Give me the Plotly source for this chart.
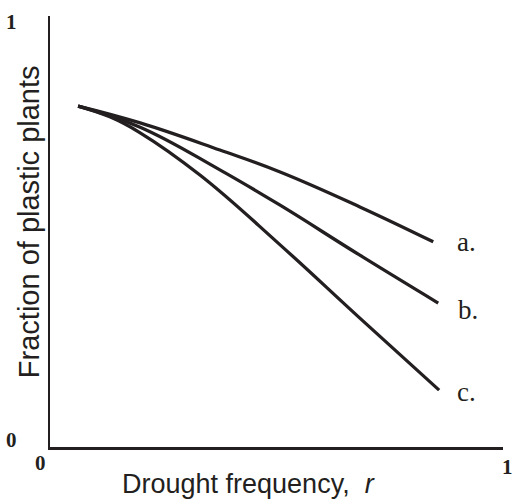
import plotly.graph_objects as go

# Curve data (drought frequency r, fraction of plastic plants)
x_a = [0.062, 0.199, 0.375, 0.508, 0.684, 0.846]
y_a = [0.791, 0.752, 0.689, 0.638, 0.557, 0.476]

x_b = [0.062, 0.199, 0.375, 0.508, 0.684, 0.857]
y_b = [0.791, 0.742, 0.643, 0.561, 0.445, 0.334]

x_c = [0.062, 0.132, 0.199, 0.331, 0.508, 0.684, 0.859]
y_c = [0.791, 0.766, 0.729, 0.631, 0.469, 0.299, 0.132]

curve_labels = ["a.", "b.", "c."]
label_x = [0.895, 0.897, 0.893]
label_y = [0.476, 0.318, 0.128]

tick_texts = ["1", "0", "0", "1"]

fig = go.Figure()
for xs, ys in [(x_a, y_a), (x_b, y_b), (x_c, y_c)]:
    fig.add_trace(go.Scatter(x=xs, y=ys, mode="lines",
                             line=dict(color="#231f20", width=3.3, shape="spline", smoothing=1.2),
                             showlegend=False, hoverinfo="skip"))

for t, lx, ly in zip(curve_labels, label_x, label_y):
    fig.add_annotation(x=lx, y=ly, xref="x", yref="y", text=t, showarrow=False,
                       xanchor="left", yanchor="middle",
                       font=dict(family="Liberation Serif", size=27, color="#231f20"))

# corner tick labels
tick_pos = [(-0.084, 0.986), (-0.084, 0.016), (-0.022, -0.037), (1.01, -0.046)]
for t, (px, py) in zip(tick_texts, tick_pos):
    fig.add_annotation(x=px, y=py, xref="paper", yref="paper", text="<b>" + t + "</b>",
                       showarrow=False, xanchor="center", yanchor="middle",
                       font=dict(family="Liberation Serif", size=21, color="#231f20"))

fig.add_annotation(x=0.439, y=-0.085, xref="paper", yref="paper",
                   text="Drought frequency,  <i>r</i>", showarrow=False,
                   xanchor="center", yanchor="middle",
                   font=dict(family="Liberation Sans", size=27, color="#231f20"))
fig.add_annotation(x=-0.046, y=0.522, xref="paper", yref="paper",
                   text="Fraction of plastic plants", showarrow=False, textangle=-90,
                   xanchor="center", yanchor="middle",
                   font=dict(family="Liberation Sans", size=29, color="#231f20"))

fig.update_xaxes(range=[0, 1], showgrid=False, zeroline=False, showticklabels=False,
                 ticks="", showline=True, linecolor="#231f20", linewidth=3)
fig.update_yaxes(range=[0, 1], showgrid=False, zeroline=False, showticklabels=False,
                 ticks="", showline=True, linecolor="#231f20", linewidth=2)
fig.update_layout(width=513, height=500, margin=dict(l=50, r=10, t=16, b=53),
                  plot_bgcolor="white", paper_bgcolor="white")

fig.write_html("out.html")
